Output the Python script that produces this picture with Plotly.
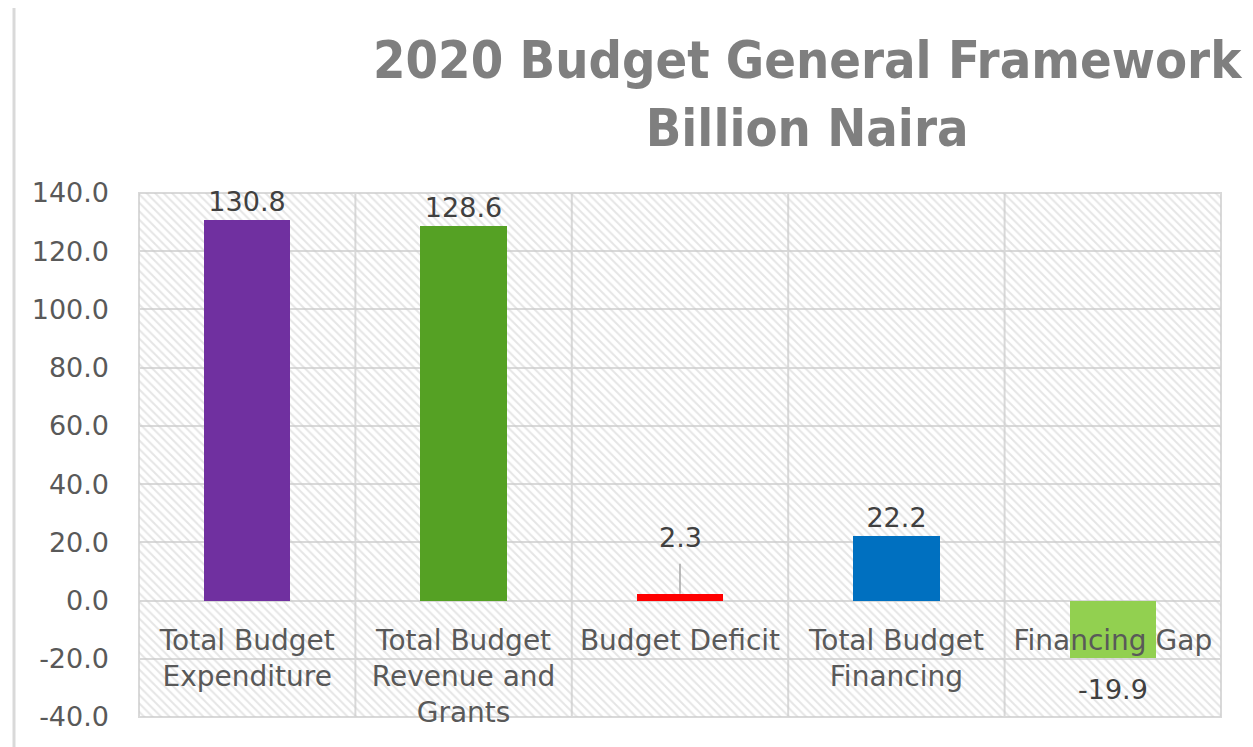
import plotly.graph_objects as go

categories = ["Total Budget<br>Expenditure", "Total Budget<br>Revenue and<br>Grants",
              "Budget Deficit", "Total Budget<br>Financing", "Financing Gap"]
values = [130.8, 128.6, 2.3, 22.2, -19.9]
colors = ["#7030A0", "#55A124", "#FF0000", "#0070C0", "#92D050"]
y_min, y_max, y_step = -40, 140, 20
tick_vals = list(range(y_min, y_max + 1, y_step))
tick_text = [f"{v:.1f}" for v in tick_vals]
title_text = "2020 Budget General Framework<br>Billion Naira"

# page body has an 8px margin, so the figure is drawn 8px in from the corner
OFF = 8
W, H = 1253 - OFF, 747 - OFF
L, R, T, B = 138 - OFF, 1253 - 1222, 193 - OFF, 747 - 717
pw, ph = W - L - R, H - T - B


def px_x(px):
    return (px - OFF - L) / pw


def px_y(py):
    return (H - B - (py - OFF)) / ph


fig = go.Figure()

# hatched background (transparent between hatch lines so gridlines show)
fig.add_trace(go.Bar(
    x=categories, y=[y_max - y_min] * len(categories), base=[y_min] * len(categories),
    width=1, marker=dict(color="rgba(0,0,0,0)", line=dict(width=0),
                         pattern=dict(shape="\\", fgcolor="#CCCCCC", bgcolor="rgba(0,0,0,0)",
                                      size=6, solidity=0.33)),
    hoverinfo="skip", showlegend=False))

labels = [f"{v:.1f}" for v in values]
label_font = dict(family="DejaVu Sans", size=27, color="#404040")
texts = [t if (c != "Budget Deficit" and v >= 0) else "" for t, c, v in zip(labels, categories, values)]
fig.add_trace(go.Bar(
    x=categories, y=values, width=0.4, marker=dict(color=colors, line=dict(width=0)),
    text=texts, textposition="outside", cliponaxis=False, textfont=label_font,
    showlegend=False))

for c, v, t in zip(categories, values, labels):
    if c == "Budget Deficit":
        # label with leader line
        fig.add_annotation(x=c, y=v, text=t, showarrow=True, arrowhead=0,
                           arrowwidth=1.5, arrowcolor="#A6A6A6", ax=0, ay=-56,
                           standoff=0, startstandoff=9, font=label_font)
    elif v < 0:
        fig.add_annotation(x=c, y=v, text=t, showarrow=False, yanchor="top",
                           yshift=-14, font=label_font)

fig.add_annotation(text=title_text, xref="paper", yref="paper", x=px_x(808),
                   y=px_y(28), xanchor="center", yanchor="top", showarrow=False,
                   font=dict(family="DejaVu Sans Condensed", size=52, color="#7F7F7F",
                             weight="bold"))

fig.update_layout(
    width=W, height=H, barmode="overlay",
    margin=dict(l=L, r=R, t=T, b=B),
    paper_bgcolor="white", plot_bgcolor="white",
    bargap=0,
)
fig.update_yaxes(range=[y_min, y_max], tickvals=tick_vals, ticktext=tick_text,
                 showgrid=True, gridcolor="#D9D9D9", gridwidth=2, zeroline=False,
                 tickfont=dict(family="DejaVu Sans", size=27, color="#595959"),
                 ticklabelstandoff=28, showline=False)
fig.update_xaxes(showgrid=False, anchor="free", position=(0 - y_min) / (y_max - y_min),
                 tickfont=dict(family="DejaVu Sans", size=28, color="#595959"),
                 showline=False, ticks="", ticklabelstandoff=20, layer="above traces")

# category boundary lines & plot border
for i in range(len(categories) + 1):
    fig.add_shape(type="line", xref="x", yref="paper", x0=i - 0.5, x1=i - 0.5, y0=0, y1=1,
                  line=dict(color="#D9D9D9", width=2), layer="below")
fig.add_shape(type="line", xref="paper", yref="paper", x0=0, x1=1, y0=0, y1=0,
              line=dict(color="#D9D9D9", width=2), layer="below")
fig.add_shape(type="line", xref="paper", yref="paper", x0=0, x1=1, y0=1, y1=1,
              line=dict(color="#D9D9D9", width=2), layer="below")

# outer frame decoration
fig.add_shape(type="line", xref="paper", yref="paper",
              x0=px_x(14), x1=px_x(14), y0=px_y(760), y1=px_y(6),
              line=dict(color="#D9D9D9", width=3), layer="below")
fig.add_shape(type="line", xref="paper", yref="paper",
              x0=px_x(1250), x1=px_x(1250), y0=px_y(760), y1=px_y(6),
              line=dict(color="#E0E0E0", width=2), layer="below")

fig.write_html("out.html")
